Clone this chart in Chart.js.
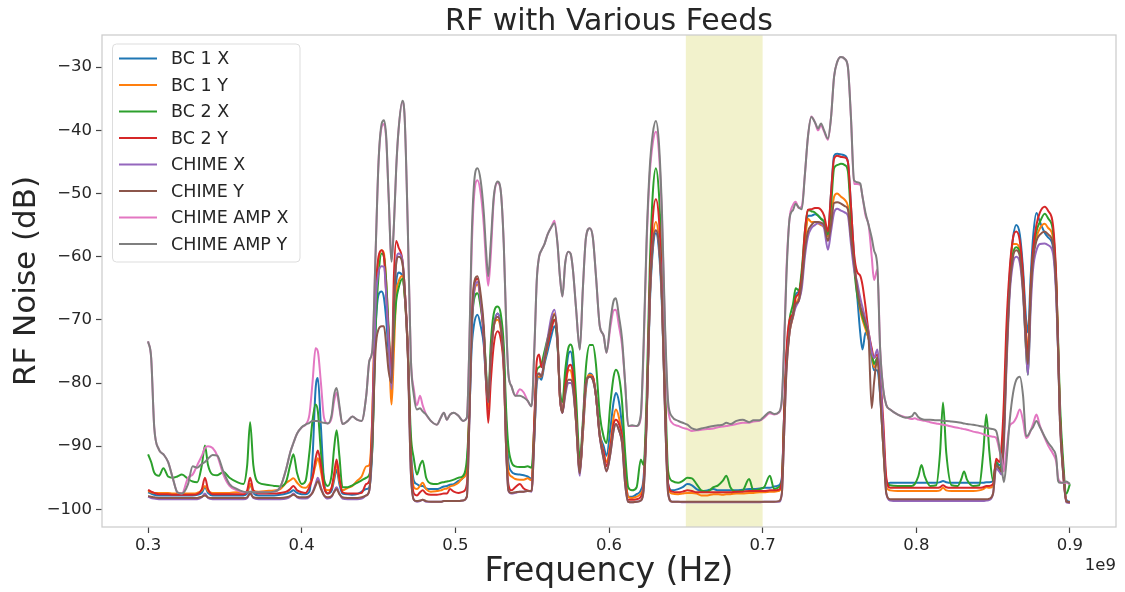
<!DOCTYPE html>
<html>
<head>
<meta charset="utf-8">
<title>RF with Various Feeds</title>
<script src="https://cdn.jsdelivr.net/npm/chart.js@4.4.1/dist/chart.umd.min.js"></script>
<style>
  html, body { margin: 0; padding: 0; background: #fff; }
  canvas { display: block; }
</style>
</head>
<body>
<canvas id="rf" width="1125" height="592"></canvas>
<script>
/* RF noise spectra for the eight feeds, 300-900 MHz */

// frequency grid (MHz), shared by every feed
const freqMHz = [
  300, 302, 304, 307, 310, 313, 316, 319, 322, 326,
  329, 332, 335, 337, 339, 342, 345, 349, 353, 358,
  362, 364.5, 366.4, 368.5, 372, 377, 382, 386, 390, 392.5,
  394.6, 397, 400, 402.5, 405, 407, 409, 410.5, 412.5, 414.5,
  417, 419.5, 421, 422.7, 424.5, 426.5, 430, 433, 436, 439,
  442, 444, 446, 448, 450, 452, 453.5, 455, 456.5, 458.5,
  460, 461.5, 463, 465.5, 467, 469, 471, 473, 475, 477,
  478.7, 481, 484, 488, 490.5, 492.5, 494.5, 496.5, 499, 502,
  505, 507.5, 509, 510.5, 512, 514.4, 516.5, 518.5, 520, 521.4,
  523, 525, 527.5, 529.5, 531.5, 533, 534.5, 536.5, 539, 542,
  544.5, 547, 549.6, 551.5, 553, 554.5, 556, 558, 560, 562.5,
  564.5, 566.5, 568, 569.7, 571.5, 573.5, 575, 576.5, 578.5, 581,
  583, 585, 587.5, 589.5, 591.5, 594, 596.5, 598.4, 601, 603,
  604.5, 606.5, 608.5, 610.5, 612.5, 615, 618, 620.7, 622.5, 624.5,
  626.5, 628.5, 630.5, 632.5, 634.5, 636.5, 638.5, 641, 645, 648,
  651, 654, 657, 660, 664, 668, 671, 674, 676.4, 679,
  683, 687, 691.2, 694, 698, 701, 704.7, 707.5, 710.5, 712.5,
  714, 715.5, 717.5, 719.8, 721.5, 723.5, 725.5, 727.5, 729.5, 731.7,
  734, 736.1, 738, 740, 742.5, 744.5, 746.5, 748.5, 751, 753.5,
  755.5, 757.5, 759.5, 761.5, 763.5, 765, 767, 769, 771, 772.5,
  774.7, 776.5, 778.5, 780.5, 783, 788, 793, 797, 799, 801.3,
  803.4, 805.5, 809, 813, 815.5, 817.4, 819.5, 823, 827, 829.3,
  831.1, 833, 837, 841, 843.6, 845.6, 847.6, 850, 852, 854,
  855.5, 857, 858.5, 860.8, 863, 865.1, 867.4, 869.5, 871.5, 872.7,
  874.5, 876, 878.2, 880.5, 883.6, 886, 889, 891.2, 892.3, 893.5,
  895.5, 897.7, 900
];

// RF noise (dB) per feed
const bc1x = [
  -97.3, -97.5, -97.7, -97.8, -97.8, -97.8, -97.8, -97.8, -97.8, -97.8,
  -97.8, -97.7, -97.4, -96.5, -97.4, -97.8, -97.8, -97.8, -97.8, -97.8,
  -97.8, -97.5, -96.0, -97.4, -97.8, -97.8, -97.8, -97.7, -97.5, -97.3,
  -97.0, -97.4, -97.6, -97.6, -97.2, -92.0, -81.0, -79.2, -87.0, -95.5,
  -97.5, -97.0, -95.5, -93.7, -96.0, -97.5, -97.6, -97.7, -97.6, -97.2,
  -96.8, -96.5, -90.0, -72.0, -66.0, -65.5, -66.5, -70.0, -75.0, -78.3,
  -70.0, -64.0, -62.5, -63.0, -66.0, -75.0, -90.0, -95.5, -96.0, -96.3,
  -96.3, -96.7, -96.8, -96.8, -96.6, -96.4, -96.3, -96.1, -96.0, -95.5,
  -95.0, -93.0, -86.0, -75.0, -71.0, -69.2, -71.0, -74.0, -80.0, -84.0,
  -76.0, -71.0, -69.0, -70.5, -76.0, -86.0, -92.5, -94.0, -94.4, -94.5,
  -94.6, -94.8, -95.2, -88.0, -80.0, -79.0, -79.5, -77.0, -75.0, -72.5,
  -71.0, -74.0, -81.0, -84.7, -80.0, -75.5, -75.0, -77.0, -84.0, -93.5,
  -88.0, -81.0, -78.5, -79.0, -82.0, -88.0, -90.0, -91.5, -87.0, -83.0,
  -81.6, -83.0, -87.0, -94.0, -98.0, -98.0, -97.6, -97.0, -95.0, -85.0,
  -68.0, -59.0, -56.3, -59.0, -68.0, -84.0, -96.0, -97.0, -96.8, -96.5,
  -96.0, -96.2, -96.8, -97.1, -97.0, -96.8, -97.0, -97.0, -97.0, -97.0,
  -97.0, -96.9, -96.8, -96.8, -96.7, -96.6, -96.6, -96.4, -96.2, -95.0,
  -85.0, -76.0, -71.0, -69.0, -66.0, -65.5, -63.0, -57.0, -53.5, -53.5,
  -53.3, -53.5, -54.0, -54.5, -56.5, -50.0, -44.0, -43.7, -43.8, -44.0,
  -45.0, -52.0, -60.0, -66.0, -72.0, -74.7, -72.0, -73.0, -76.0, -78.0,
  -78.0, -82.0, -90.0, -96.0, -95.8, -95.8, -95.8, -95.8, -95.8, -95.8,
  -95.8, -95.8, -95.8, -95.8, -95.7, -95.5, -95.7, -95.8, -95.8, -95.8,
  -95.8, -95.8, -95.8, -95.8, -95.8, -95.7, -95.7, -95.5, -92.5, -93.0,
  -92.5, -87.0, -75.0, -63.0, -57.0, -55.0, -56.5, -62.0, -70.0, -72.0,
  -63.0, -57.0, -53.1, -54.5, -56.2, -57.0, -58.5, -66.0, -74.7, -85.0,
  -93.2, -98.5, -98.8
];
const bc1y = [
  -97.1, -97.3, -97.4, -97.4, -97.4, -97.4, -97.5, -97.5, -97.5, -97.5,
  -97.5, -97.4, -97.0, -96.3, -97.1, -97.4, -97.4, -97.4, -97.4, -97.3,
  -97.3, -97.2, -96.0, -97.1, -97.2, -97.1, -97.0, -96.8, -95.8, -95.4,
  -95.1, -95.8, -96.5, -96.6, -96.0, -95.0, -93.0, -91.9, -94.0, -96.5,
  -97.0, -96.6, -95.0, -92.8, -95.5, -97.0, -96.6, -96.3, -95.5, -94.8,
  -93.2, -93.0, -85.0, -66.0, -60.5, -59.0, -59.5, -64.0, -72.0, -83.4,
  -75.0, -66.0, -64.0, -63.0, -66.0, -75.0, -91.0, -96.5, -96.8, -96.3,
  -95.8, -96.8, -97.2, -97.1, -97.0, -96.8, -96.7, -96.4, -96.2, -95.8,
  -95.0, -94.0, -85.0, -72.0, -66.0, -64.4, -67.0, -72.0, -79.0, -84.0,
  -77.0, -71.0, -70.0, -71.5, -77.0, -88.0, -94.0, -94.8, -95.2, -95.3,
  -95.3, -95.1, -95.4, -86.0, -79.0, -79.0, -79.0, -76.5, -74.0, -70.5,
  -69.0, -73.0, -82.0, -84.5, -81.0, -78.0, -78.0, -80.0, -86.0, -94.0,
  -88.0, -80.5, -78.7, -79.0, -82.0, -88.0, -91.0, -92.5, -89.5, -85.5,
  -84.2, -85.5, -88.5, -94.5, -98.0, -98.2, -98.0, -97.5, -96.0, -85.0,
  -67.0, -57.5, -54.5, -57.5, -67.0, -84.0, -96.5, -97.5, -97.6, -97.5,
  -97.4, -97.4, -97.5, -97.8, -97.8, -97.6, -97.6, -97.7, -97.6, -97.6,
  -97.5, -97.5, -97.4, -97.4, -97.3, -97.3, -97.2, -97.2, -97.1, -96.0,
  -86.0, -77.0, -72.0, -69.5, -67.5, -66.5, -64.0, -58.0, -54.0, -54.5,
  -54.5, -54.7, -55.0, -55.3, -56.8, -54.0, -50.5, -50.0, -50.5, -51.0,
  -52.0, -56.0, -61.0, -65.0, -68.5, -70.0, -71.5, -73.0, -75.5, -77.5,
  -77.0, -81.0, -90.0, -96.5, -97.0, -97.1, -97.1, -97.1, -97.1, -97.1,
  -97.1, -97.1, -97.1, -97.1, -97.0, -96.6, -97.0, -97.1, -97.1, -97.1,
  -97.1, -97.1, -97.1, -97.0, -96.8, -96.5, -96.6, -96.3, -93.0, -93.5,
  -94.0, -88.0, -76.0, -64.0, -58.0, -58.0, -59.0, -64.0, -72.0, -75.0,
  -65.0, -60.0, -57.0, -55.5, -54.8, -55.5, -57.0, -65.0, -74.0, -85.0,
  -93.5, -98.7, -98.9
];
const bc2x = [
  -91.3, -92.5, -94.2, -94.7, -93.5, -94.8, -95.0, -94.8, -94.5, -95.2,
  -95.6, -95.7, -93.0, -89.9, -93.0, -94.5, -94.6, -94.1, -95.0, -95.7,
  -96.0, -93.0, -86.2, -93.0, -95.8, -96.1, -96.3, -96.4, -95.5, -93.0,
  -91.3, -94.3, -96.0, -95.5, -91.0, -86.0, -83.4, -84.5, -91.0, -95.2,
  -96.3, -94.5, -90.5, -87.5, -91.5, -96.5, -96.5, -96.2, -95.8, -95.4,
  -95.0, -94.5, -90.0, -72.0, -63.0, -59.5, -60.0, -64.0, -71.0, -79.0,
  -72.0, -67.0, -65.0, -63.5, -66.0, -74.0, -88.0, -92.0, -94.5, -93.0,
  -92.3, -95.0, -95.9, -96.0, -95.8, -95.7, -95.6, -95.5, -95.3, -95.0,
  -94.7, -92.0, -85.0, -72.0, -67.0, -65.8, -68.0, -72.0, -78.0, -83.0,
  -74.0, -69.0, -67.9, -69.0, -74.0, -84.0, -90.0, -92.5, -93.2, -93.3,
  -93.3, -93.2, -93.4, -86.0, -78.0, -77.5, -77.0, -75.0, -73.0, -71.0,
  -70.0, -74.0, -81.0, -83.0, -78.0, -74.5, -73.9, -75.0, -82.0, -92.0,
  -86.0, -77.5, -74.0, -74.0, -77.0, -85.0, -88.5, -89.5, -83.0, -79.0,
  -77.9, -79.0, -83.0, -91.0, -96.5, -97.0, -96.5, -92.1, -93.0, -82.0,
  -62.0, -50.0, -46.0, -50.0, -62.0, -80.0, -94.0, -95.5, -95.8, -95.5,
  -95.0, -95.1, -96.0, -97.0, -97.2, -96.5, -96.2, -95.5, -94.7, -96.5,
  -97.2, -97.0, -95.2, -97.0, -96.8, -96.5, -94.7, -96.8, -96.5, -95.5,
  -85.0, -76.0, -70.0, -67.5, -65.0, -65.3, -62.0, -56.0, -52.6, -52.8,
  -53.0, -53.5, -54.0, -54.5, -56.5, -52.0, -46.0, -45.5, -45.3, -45.5,
  -46.5, -54.0, -61.5, -66.0, -68.0, -69.5, -71.0, -72.5, -75.0, -77.0,
  -76.0, -80.0, -88.0, -95.5, -96.2, -96.3, -96.3, -96.3, -96.0, -94.8,
  -93.0, -94.8, -96.3, -96.2, -91.0, -83.1, -91.0, -96.2, -96.3, -95.2,
  -94.0, -95.3, -96.3, -96.2, -91.0, -85.0, -91.0, -95.5, -92.5, -93.5,
  -93.0, -88.0, -77.0, -65.0, -59.5, -58.5, -59.5, -65.0, -75.0, -78.7,
  -66.0, -59.5, -56.0, -54.5, -53.2, -54.0, -56.0, -64.5, -73.0, -83.0,
  -92.0, -97.5, -96.0
];
const bc2y = [
  -96.9, -97.2, -97.4, -97.6, -97.6, -97.6, -97.7, -97.7, -97.7, -97.7,
  -97.7, -97.6, -96.8, -95.0, -96.8, -97.6, -97.6, -97.6, -97.6, -97.6,
  -97.6, -97.0, -95.0, -97.0, -97.5, -97.5, -97.5, -97.4, -97.2, -96.8,
  -96.3, -97.0, -97.3, -97.4, -96.5, -95.0, -92.0, -90.7, -93.0, -96.5,
  -97.5, -96.5, -94.5, -92.1, -95.0, -97.3, -97.5, -97.5, -97.5, -97.4,
  -96.0, -95.5, -85.0, -66.0, -60.0, -59.0, -60.0, -66.0, -72.0, -78.0,
  -63.0, -57.5, -58.5, -60.5, -65.0, -74.0, -92.0, -97.5, -97.8, -97.3,
  -97.0, -97.5, -97.7, -97.7, -97.6, -97.5, -97.5, -96.8, -97.2, -97.4,
  -97.2, -96.0, -85.0, -70.0, -65.0, -63.5, -67.0, -73.0, -80.0, -86.3,
  -80.0, -74.0, -71.8, -73.0, -78.0, -90.0, -96.0, -97.0, -96.5, -96.0,
  -96.7, -97.0, -97.1, -85.0, -76.5, -75.5, -77.5, -76.0, -74.0, -71.5,
  -70.0, -73.5, -82.0, -84.7, -80.5, -77.5, -77.1, -78.5, -85.0, -94.0,
  -87.0, -80.0, -79.0, -79.0, -82.0, -88.5, -91.0, -93.2, -90.0, -86.5,
  -85.8, -86.5, -88.5, -95.0, -98.5, -98.5, -98.4, -98.0, -96.0, -85.0,
  -65.0, -54.0, -50.9, -54.0, -65.0, -83.0, -96.0, -97.2, -97.3, -97.2,
  -97.0, -97.1, -97.3, -97.3, -97.3, -97.3, -97.3, -97.3, -97.3, -97.3,
  -97.2, -97.2, -97.1, -97.1, -97.1, -97.1, -97.0, -97.0, -96.9, -95.5,
  -85.0, -75.0, -70.0, -69.0, -66.5, -65.8, -63.0, -56.0, -52.6, -52.5,
  -52.3, -52.3, -52.6, -53.5, -56.0, -50.0, -44.5, -44.0, -44.2, -44.3,
  -45.0, -52.0, -59.5, -62.4, -63.0, -64.5, -68.0, -72.0, -74.5, -76.0,
  -75.5, -79.0, -86.0, -95.0, -96.6, -96.6, -96.6, -96.6, -96.6, -96.6,
  -96.6, -96.6, -96.6, -96.6, -96.5, -96.2, -96.5, -96.6, -96.6, -96.6,
  -96.6, -96.6, -96.6, -96.6, -96.5, -96.3, -96.3, -96.0, -92.0, -92.5,
  -90.0, -83.0, -72.0, -62.0, -57.0, -56.0, -57.5, -63.0, -72.5, -76.0,
  -65.0, -59.0, -55.0, -53.0, -52.1, -52.8, -55.0, -64.0, -74.0, -85.0,
  -93.5, -98.7, -98.9
];
const chimeX = [
  -98.0, -98.2, -98.3, -98.4, -98.4, -98.4, -98.4, -98.4, -98.4, -98.4,
  -98.4, -98.4, -98.1, -97.5, -98.2, -98.4, -98.4, -98.4, -98.4, -98.4,
  -98.4, -98.2, -97.3, -98.2, -98.4, -98.4, -98.4, -98.4, -98.3, -98.0,
  -97.5, -98.1, -98.3, -98.3, -98.0, -97.3, -96.0, -95.0, -96.5, -97.8,
  -98.3, -98.0, -97.2, -96.5, -97.5, -98.3, -98.4, -98.4, -98.4, -98.3,
  -97.8, -97.0, -88.0, -68.0, -62.5, -61.5, -61.6, -66.0, -73.0, -81.0,
  -68.0, -61.0, -59.5, -60.5, -65.0, -75.0, -94.0, -98.5, -98.8, -98.7,
  -98.5, -98.8, -98.8, -98.8, -98.8, -98.7, -98.7, -98.7, -98.7, -98.7,
  -98.6, -98.0, -87.0, -73.0, -66.0, -64.0, -67.0, -72.0, -79.0, -83.0,
  -76.0, -71.0, -69.0, -71.0, -77.0, -90.0, -97.0, -97.5, -97.4, -97.2,
  -97.2, -97.1, -97.2, -88.0, -79.0, -78.5, -79.0, -76.0, -73.0, -69.5,
  -68.4, -73.0, -82.0, -84.7, -82.0, -80.0, -80.0, -81.0, -86.0, -94.7,
  -87.0, -80.0, -79.0, -79.5, -82.0, -88.5, -92.0, -94.0, -91.0, -87.5,
  -86.5, -87.5, -89.5, -96.0, -98.8, -98.9, -98.8, -98.6, -97.0, -86.0,
  -67.0, -58.0, -55.8, -58.0, -67.0, -85.0, -97.5, -98.8, -98.8, -98.9,
  -98.9, -98.9, -98.9, -98.9, -98.9, -98.9, -98.9, -98.9, -98.9, -98.9,
  -98.9, -98.9, -98.9, -98.9, -98.9, -98.8, -98.8, -98.8, -98.8, -97.5,
  -88.0, -78.0, -72.0, -69.5, -68.0, -67.0, -65.0, -60.0, -56.8, -55.5,
  -55.0, -54.7, -54.8, -55.5, -58.9, -56.0, -53.0, -52.4, -52.7, -53.0,
  -53.5, -58.0, -62.0, -64.0, -66.5, -68.0, -70.0, -72.0, -75.0, -76.0,
  -74.7, -79.0, -88.0, -97.5, -98.6, -98.7, -98.7, -98.7, -98.7, -98.7,
  -98.7, -98.7, -98.7, -98.7, -98.7, -98.7, -98.7, -98.7, -98.7, -98.7,
  -98.7, -98.7, -98.7, -98.7, -98.7, -98.6, -98.5, -97.5, -93.5, -94.0,
  -94.5, -90.0, -79.0, -66.0, -61.0, -60.0, -61.0, -66.0, -75.0, -78.7,
  -68.0, -62.0, -59.0, -58.0, -57.9, -58.2, -59.5, -67.0, -75.0, -86.0,
  -94.0, -98.9, -99.0
];
const chimeY = [
  -97.9, -98.0, -98.1, -98.2, -98.2, -98.2, -98.2, -98.2, -98.2, -98.2,
  -98.2, -98.2, -98.0, -97.8, -98.1, -98.2, -98.2, -98.2, -98.2, -98.2,
  -98.2, -98.1, -97.5, -98.1, -98.2, -98.2, -98.2, -98.2, -98.1, -97.9,
  -97.7, -98.0, -98.1, -98.1, -97.9, -97.4, -96.3, -95.5, -96.8, -97.8,
  -98.1, -97.9, -97.3, -96.8, -97.6, -98.1, -98.2, -98.2, -98.2, -98.1,
  -97.8, -97.0, -89.0, -75.0, -71.5, -71.0, -71.0, -74.0, -78.0, -80.0,
  -68.0, -61.0, -60.0, -61.0, -65.0, -75.0, -94.0, -98.5, -98.7, -98.6,
  -98.5, -98.7, -98.8, -98.8, -98.8, -98.7, -98.7, -98.7, -98.7, -98.7,
  -98.6, -98.0, -87.0, -72.0, -64.5, -63.1, -66.0, -71.0, -79.0, -83.0,
  -76.0, -71.0, -69.5, -71.0, -77.0, -90.0, -97.0, -97.4, -97.3, -97.2,
  -97.2, -97.1, -97.1, -88.0, -79.0, -78.5, -79.0, -76.5, -73.5, -70.5,
  -69.2, -73.0, -82.0, -84.7, -81.5, -79.5, -79.5, -80.5, -86.0, -94.3,
  -87.0, -80.0, -79.0, -79.5, -82.0, -88.5, -92.0, -94.0, -91.0, -87.5,
  -86.5, -87.5, -89.5, -96.0, -98.8, -98.9, -98.8, -98.6, -97.0, -86.0,
  -67.0, -58.0, -55.8, -58.0, -67.0, -85.0, -97.5, -98.8, -98.8, -98.8,
  -98.8, -98.8, -98.8, -98.8, -98.8, -98.8, -98.8, -98.8, -98.8, -98.8,
  -98.8, -98.8, -98.8, -98.8, -98.8, -98.8, -98.8, -98.8, -98.7, -97.5,
  -88.0, -78.0, -72.0, -69.3, -67.5, -67.0, -64.0, -59.0, -56.0, -55.0,
  -54.5, -54.5, -54.6, -55.0, -57.5, -55.0, -51.5, -51.4, -51.6, -52.0,
  -52.5, -57.0, -61.0, -65.0, -67.8, -69.0, -70.5, -73.0, -84.0, -80.0,
  -76.0, -82.0, -90.0, -97.5, -98.4, -98.4, -98.4, -98.4, -98.4, -98.4,
  -98.4, -98.4, -98.4, -98.4, -98.4, -98.4, -98.4, -98.4, -98.4, -98.4,
  -98.4, -98.4, -98.4, -98.4, -98.4, -98.4, -98.3, -97.5, -93.0, -93.5,
  -94.0, -89.0, -78.0, -65.0, -60.0, -59.0, -60.0, -65.5, -74.0, -77.0,
  -66.0, -60.5, -57.5, -56.5, -56.0, -56.5, -58.0, -66.0, -75.0, -86.0,
  -94.0, -98.8, -98.9
];
const chimeAmpX = [
  -73.4, -76.0, -87.0, -90.5, -91.3, -92.5, -95.0, -97.3, -97.5, -95.0,
  -94.5, -93.0, -91.5, -90.3, -90.0, -90.3, -91.5, -94.5, -96.3, -97.0,
  -97.3, -97.3, -97.2, -97.3, -97.3, -97.3, -97.2, -96.5, -93.5, -91.0,
  -89.5, -88.0, -87.0, -86.6, -85.0, -80.0, -74.5, -75.0, -80.0, -85.5,
  -86.4, -85.5, -83.0, -81.5, -84.0, -86.5, -86.0, -85.3, -85.8, -86.0,
  -82.0, -76.5, -74.7, -60.0, -45.0, -39.5, -39.0, -41.5, -50.0, -60.5,
  -55.0, -46.0, -40.0, -35.5, -38.0, -55.0, -76.0, -81.0, -83.5, -82.0,
  -83.5, -85.0, -86.0, -86.6, -85.5, -84.7, -85.8, -85.0, -84.7, -85.2,
  -86.0, -85.5, -75.0, -60.0, -51.0, -47.9, -50.0, -55.0, -61.0, -64.6,
  -60.0, -51.0, -48.3, -49.5, -58.0, -70.0, -78.5, -80.5, -82.0, -81.0,
  -81.5, -82.8, -83.7, -74.0, -63.7, -60.0, -59.0, -58.0, -56.5, -55.3,
  -54.3, -58.0, -63.0, -66.3, -61.0, -59.2, -59.5, -62.0, -68.0, -74.7,
  -65.0, -57.0, -55.5, -57.0, -63.0, -71.0, -72.5, -75.2, -71.0, -68.5,
  -68.4, -71.0, -74.0, -80.0, -86.8, -86.8, -86.8, -85.5, -75.0, -58.0,
  -47.0, -42.0, -40.2, -43.5, -54.0, -72.0, -84.0, -86.3, -86.8, -87.1,
  -87.3, -87.6, -87.5, -87.4, -87.3, -87.2, -87.0, -86.9, -86.8, -86.7,
  -86.5, -86.3, -86.3, -86.1, -86.0, -85.5, -84.8, -85.0, -84.7, -83.0,
  -74.0, -62.0, -54.0, -51.8, -51.3, -52.3, -52.0, -47.0, -41.0, -37.8,
  -38.7, -40.0, -39.2, -40.2, -41.5, -38.0, -31.5, -29.2, -28.4, -28.7,
  -30.0, -38.0, -48.5, -48.5, -48.6, -50.5, -53.5, -55.0, -60.0, -63.7,
  -62.0, -74.7, -81.0, -83.5, -84.2, -85.0, -85.4, -85.7, -85.6, -85.8,
  -85.9, -86.0, -86.2, -86.4, -86.5, -86.6, -86.7, -86.9, -87.1, -87.2,
  -87.3, -87.4, -87.7, -87.9, -88.1, -88.3, -88.4, -88.5, -88.7, -90.5,
  -92.1, -94.0, -91.0, -86.8, -86.3, -85.5, -84.2, -86.0, -88.7, -88.5,
  -87.5, -86.5, -85.0, -86.8, -88.7, -90.0, -91.2, -92.6, -95.0, -95.6,
  -95.8, -95.8, -96.0
];
const chimeAmpY = [
  -73.4, -76.0, -87.0, -90.5, -91.3, -92.5, -95.0, -97.3, -97.5, -96.0,
  -93.2, -93.4, -92.8, -92.5, -92.0, -91.4, -91.5, -94.0, -96.0, -96.8,
  -97.2, -97.3, -97.2, -97.3, -97.3, -97.3, -97.2, -96.5, -93.5, -91.0,
  -89.5, -88.0, -87.0, -86.6, -86.3, -86.0, -86.0, -86.0, -86.2, -86.3,
  -86.4, -85.0, -82.0, -80.8, -83.5, -86.5, -86.0, -85.3, -85.8, -86.0,
  -82.0, -76.5, -74.7, -60.0, -45.0, -39.0, -38.4, -41.0, -50.0, -60.8,
  -55.0, -46.0, -40.0, -35.3, -38.0, -55.0, -76.0, -82.0, -84.2, -84.0,
  -84.5, -85.0, -86.0, -86.6, -85.5, -84.7, -85.8, -85.0, -84.7, -85.2,
  -86.0, -85.5, -75.0, -58.0, -49.0, -46.0, -48.0, -53.0, -59.0, -63.1,
  -58.0, -50.5, -48.1, -49.5, -58.0, -70.0, -78.5, -80.5, -82.0, -82.0,
  -82.3, -82.8, -83.7, -74.0, -63.7, -60.0, -59.0, -58.0, -56.5, -55.3,
  -54.7, -58.0, -63.0, -66.3, -61.0, -59.2, -59.5, -62.0, -68.0, -74.7,
  -65.0, -57.0, -55.5, -57.0, -63.0, -71.0, -72.5, -75.2, -70.0, -67.0,
  -66.6, -69.5, -73.0, -80.0, -86.8, -86.7, -86.8, -85.0, -74.0, -57.0,
  -46.0, -40.5, -38.5, -42.0, -53.0, -71.0, -83.0, -85.3, -86.0, -86.3,
  -86.6, -87.2, -87.4, -87.2, -87.0, -86.8, -86.7, -86.6, -86.3, -86.5,
  -86.0, -85.8, -86.2, -85.9, -85.9, -85.3, -84.6, -84.9, -84.6, -82.5,
  -74.0, -63.0, -54.0, -52.6, -51.6, -52.2, -52.5, -47.0, -41.0, -37.9,
  -38.7, -39.7, -38.9, -40.0, -41.3, -38.0, -31.5, -29.2, -28.4, -28.7,
  -30.0, -38.0, -47.9, -48.2, -48.4, -50.5, -53.1, -55.0, -57.0, -59.0,
  -61.6, -74.7, -81.0, -83.5, -84.2, -85.0, -85.5, -85.3, -84.7, -85.4,
  -85.7, -85.8, -85.8, -85.9, -85.9, -86.0, -86.0, -86.1, -86.2, -86.3,
  -86.4, -86.5, -86.6, -86.8, -86.9, -87.1, -87.2, -87.3, -87.6, -90.0,
  -93.0, -95.7, -93.0, -86.0, -81.6, -79.5, -79.0, -82.0, -88.4, -88.3,
  -87.5, -87.0, -86.0, -87.0, -88.5, -89.5, -90.5, -92.0, -95.5, -95.8,
  -95.8, -95.6, -96.0
];

const feedNames  = ['BC 1 X', 'BC 1 Y', 'BC 2 X', 'BC 2 Y', 'CHIME X', 'CHIME Y', 'CHIME AMP X', 'CHIME AMP Y'];
const feedValues = [bc1x, bc1y, bc2x, bc2y, chimeX, chimeY, chimeAmpX, chimeAmpY];
const feedColors = ['#1f77b4', '#ff7f0e', '#2ca02c', '#d62728', '#9467bd', '#8c564b', '#e377c2', '#7f7f7f'];

// axis ticks and the highlighted band (GHz)
const xTicksGHz = [0.3, 0.4, 0.5, 0.6, 0.7, 0.8, 0.9];
const yTicksDb  = [-100, -90, -80, -70, -60, -50, -40, -30];
const bandGHz   = [0.65, 0.70];

const FONT = "'DejaVu Sans', 'Liberation Sans', sans-serif";
const INK  = '#262626';

const minus = s => String(s).replace('-', '\u2212');

// ── plugins ──────────────────────────────────
const bandPlugin = {
    id: 'band',
    beforeDatasetsDraw(chart) {
        const { ctx, chartArea: a, scales: { x } } = chart;
        const x0 = x.getPixelForValue(bandGHz[0] * 1e9);
        const x1 = x.getPixelForValue(bandGHz[1] * 1e9);
        ctx.save();
        ctx.fillStyle = 'rgba(191,191,0,0.2)';
        ctx.fillRect(x0, a.top, x1 - x0, a.bottom - a.top);
        ctx.restore();
    }
};

const framePlugin = {
    id: 'frame',
    afterDatasetsDraw(chart) {
        const { ctx, chartArea: a } = chart;
        ctx.save();
        ctx.strokeStyle = '#cccccc';
        ctx.lineWidth = 1.25;
        ctx.strokeRect(a.left, a.top, a.right - a.left, a.bottom - a.top);
        ctx.restore();
    }
};

// legend box in the upper-left corner of the plot
const insideLegend = {
    id: 'insideLegend',
    afterDatasetsDraw(chart) {
        const { ctx } = chart;
        const bx = 112.5, by = 44, bw = 187.5, bh = 218, r = 4;
        ctx.save();
        ctx.beginPath();
        ctx.roundRect(bx, by, bw, bh, r);
        ctx.fillStyle = 'rgba(255,255,255,0.8)';
        ctx.fill();
        ctx.strokeStyle = '#dddddd';
        ctx.lineWidth = 1;
        ctx.stroke();

        ctx.font = '17.5px ' + FONT;
        ctx.textBaseline = 'middle';
        ctx.textAlign = 'left';
        feedNames.forEach((name, i) => {
            const y = 58.5 + i * 26.5;
            ctx.strokeStyle = feedColors[i];
            ctx.lineWidth = 2;
            ctx.beginPath();
            ctx.moveTo(119, y);
            ctx.lineTo(157, y);
            ctx.stroke();
            ctx.fillStyle = INK;
            ctx.fillText(name, 171, y + 1);
        });
        ctx.restore();
    }
};

// matplotlib-style offset text under the x axis
const offsetText = {
    id: 'offsetText',
    afterDraw(chart) {
        const { ctx, chartArea: a } = chart;
        ctx.save();
        ctx.font = '16.5px ' + FONT;
        ctx.fillStyle = INK;
        ctx.textAlign = 'right';
        ctx.textBaseline = 'middle';
        ctx.fillText('1e9', a.right, 566);
        ctx.restore();
    }
};

// ── chart ────────────────────────────────────
const datasets = feedNames.map((name, i) => ({
    label: name,
    data: freqMHz.map((f, j) => ({ x: f * 1e6, y: feedValues[i][j] })),
    borderColor: feedColors[i],
    backgroundColor: feedColors[i],
    borderWidth: 2,
    pointRadius: 0,
    cubicInterpolationMode: 'monotone',
    order: feedNames.length - i   // later feeds drawn on top
}));

new Chart(document.getElementById('rf'), {
    type: 'line',
    data: { datasets },
    options: {
        responsive: false,
        animation: false,
        devicePixelRatio: 1,
        layout: { padding: { left: 0, right: 9, top: 0, bottom: 0 } },
        scales: {
            x: {
                type: 'linear',
                min: 2.7e8,
                max: 9.3e8,
                bounds: 'data',
                afterFit: s => { s.height = 65; },
                afterBuildTicks: s => { s.ticks = xTicksGHz.map(v => ({ value: v * 1e9 })); },
                ticks: {
                    callback: v => (v / 1e9).toFixed(1),
                    font: { family: FONT, size: 16.5 },
                    color: INK,
                    padding: 3,
                    maxRotation: 0,
                    autoSkip: false
                },
                grid: { display: true, drawOnChartArea: false, drawTicks: true, tickLength: 6, tickColor: '#444', tickWidth: 1.2 },
                border: { display: false },
                title: {
                    display: true,
                    text: 'Frequency (Hz)',
                    font: { family: FONT, size: 33, lineHeight: '40px' },
                    color: INK,
                    padding: 0
                }
            },
            y: {
                min: -102.8,
                max: -24.9,
                bounds: 'data',
                afterFit: s => { s.width = 102; },
                afterBuildTicks: s => { s.ticks = yTicksDb.map(v => ({ value: v })); },
                ticks: {
                    callback: v => minus(v),
                    font: { family: FONT, size: 16.5 },
                    color: INK,
                    padding: 4
                },
                grid: { display: true, drawOnChartArea: false, drawTicks: true, tickLength: 6, tickColor: '#444', tickWidth: 1.2 },
                border: { display: false },
                title: {
                    display: true,
                    text: 'RF Noise (dB)',
                    font: { family: FONT, size: 31, lineHeight: '54px' },
                    color: INK,
                    padding: 0
                }
            }
        },
        plugins: {
            legend: { display: false },
            tooltip: { enabled: false },
            title: {
                display: true,
                text: 'RF with Various Feeds',
                fullSize: false,
                font: { family: FONT, size: 30, weight: 'normal', lineHeight: '26px' },
                color: INK,
                padding: { top: 9, bottom: 0 }
            }
        }
    },
    plugins: [bandPlugin, framePlugin, insideLegend, offsetText]
});
</script>
</body>
</html>
